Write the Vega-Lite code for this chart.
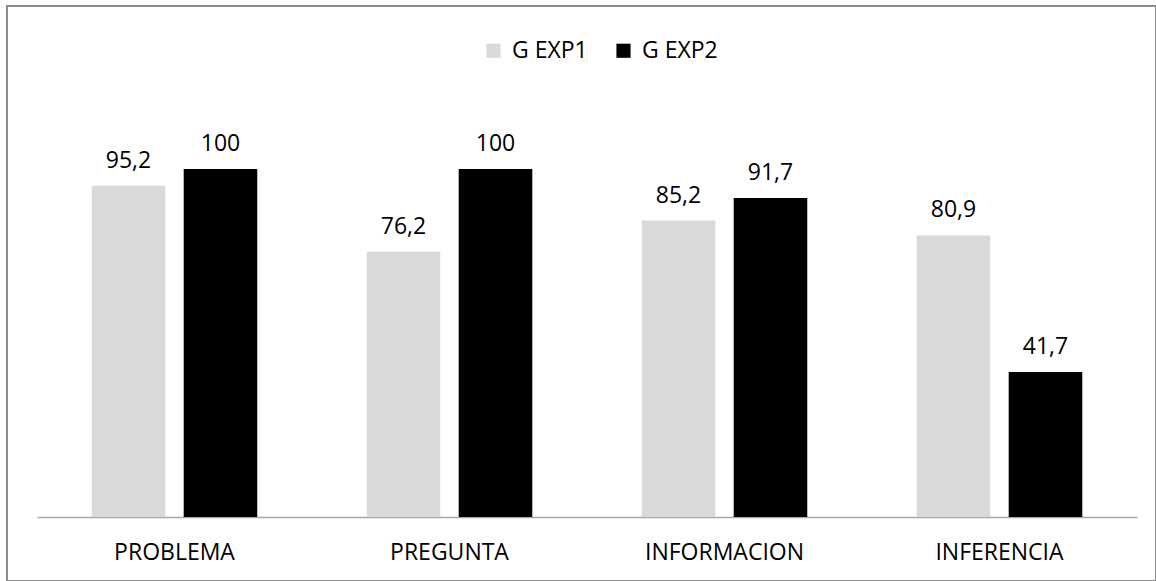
{
  "$schema": "https://vega.github.io/schema/vega-lite/v6.json",
  "width": 1149,
  "height": 575,
  "autosize": {"type": "none"},
  "padding": {"left": 7, "top": 6, "right": 0, "bottom": 0},
  "background": "white",
  "config": {
    "view": {"stroke": "#8c8c8c", "strokeWidth": 2},
    "font": "Open Sans",
    "locale": {
      "number": {"decimal": ",", "thousands": ".", "grouping": [3], "currency": ["", " €"]}
    }
  },
  "data": {
    "values": [
      {"categoria": "PROBLEMA", "grupo": "G EXP1", "valor": 95.2},
      {"categoria": "PROBLEMA", "grupo": "G EXP2", "valor": 100},
      {"categoria": "PREGUNTA", "grupo": "G EXP1", "valor": 76.2},
      {"categoria": "PREGUNTA", "grupo": "G EXP2", "valor": 100},
      {"categoria": "INFORMACION", "grupo": "G EXP1", "valor": 85.2},
      {"categoria": "INFORMACION", "grupo": "G EXP2", "valor": 91.7},
      {"categoria": "INFERENCIA", "grupo": "G EXP1", "valor": 80.9},
      {"categoria": "INFERENCIA", "grupo": "G EXP2", "valor": 41.7}
    ]
  },
  "encoding": {
    "x": {
      "field": "categoria",
      "type": "nominal",
      "sort": null,
      "scale": {"range": [30, 1130], "paddingInner": 0, "paddingOuter": 0},
      "axis": {
        "title": null,
        "ticks": false,
        "grid": false,
        "domainColor": "#a6a6a6",
        "domainWidth": 1.5,
        "offset": -64,
        "labelFontSize": 23,
        "labelColor": "black",
        "labelAngle": 0,
        "labelPadding": 42,
        "labelBaseline": "alphabetic"
      }
    },
    "xOffset": {
      "field": "grupo",
      "type": "nominal",
      "scale": {"paddingInner": 0.2, "paddingOuter": 0.595}
    },
    "y": {
      "field": "valor",
      "type": "quantitative",
      "scale": {"domain": [-18.39, 146.84], "nice": false, "zero": false},
      "axis": null
    }
  },
  "layer": [
    {
      "mark": {"type": "bar"},
      "encoding": {
        "y2": {"datum": 0},
        "color": {
          "field": "grupo",
          "type": "nominal",
          "scale": {"domain": ["G EXP1", "G EXP2"], "range": ["#d9d9d9", "#000000"]},
          "legend": {
            "orient": "none",
            "legendX": 475,
            "legendY": 33,
            "direction": "horizontal",
            "title": null,
            "symbolType": "square",
            "symbolSize": 200,
            "symbolStrokeWidth": 0,
            "labelFontSize": 23,
            "labelColor": "black",
            "labelOffset": 7,
            "columnPadding": 24,
            "padding": 0
          }
        }
      }
    },
    {
      "mark": {"type": "text", "dy": -18, "baseline": "alphabetic", "fontSize": 23, "color": "black"},
      "encoding": {
        "text": {"field": "valor", "type": "quantitative", "format": "~f"}
      }
    }
  ]
}
